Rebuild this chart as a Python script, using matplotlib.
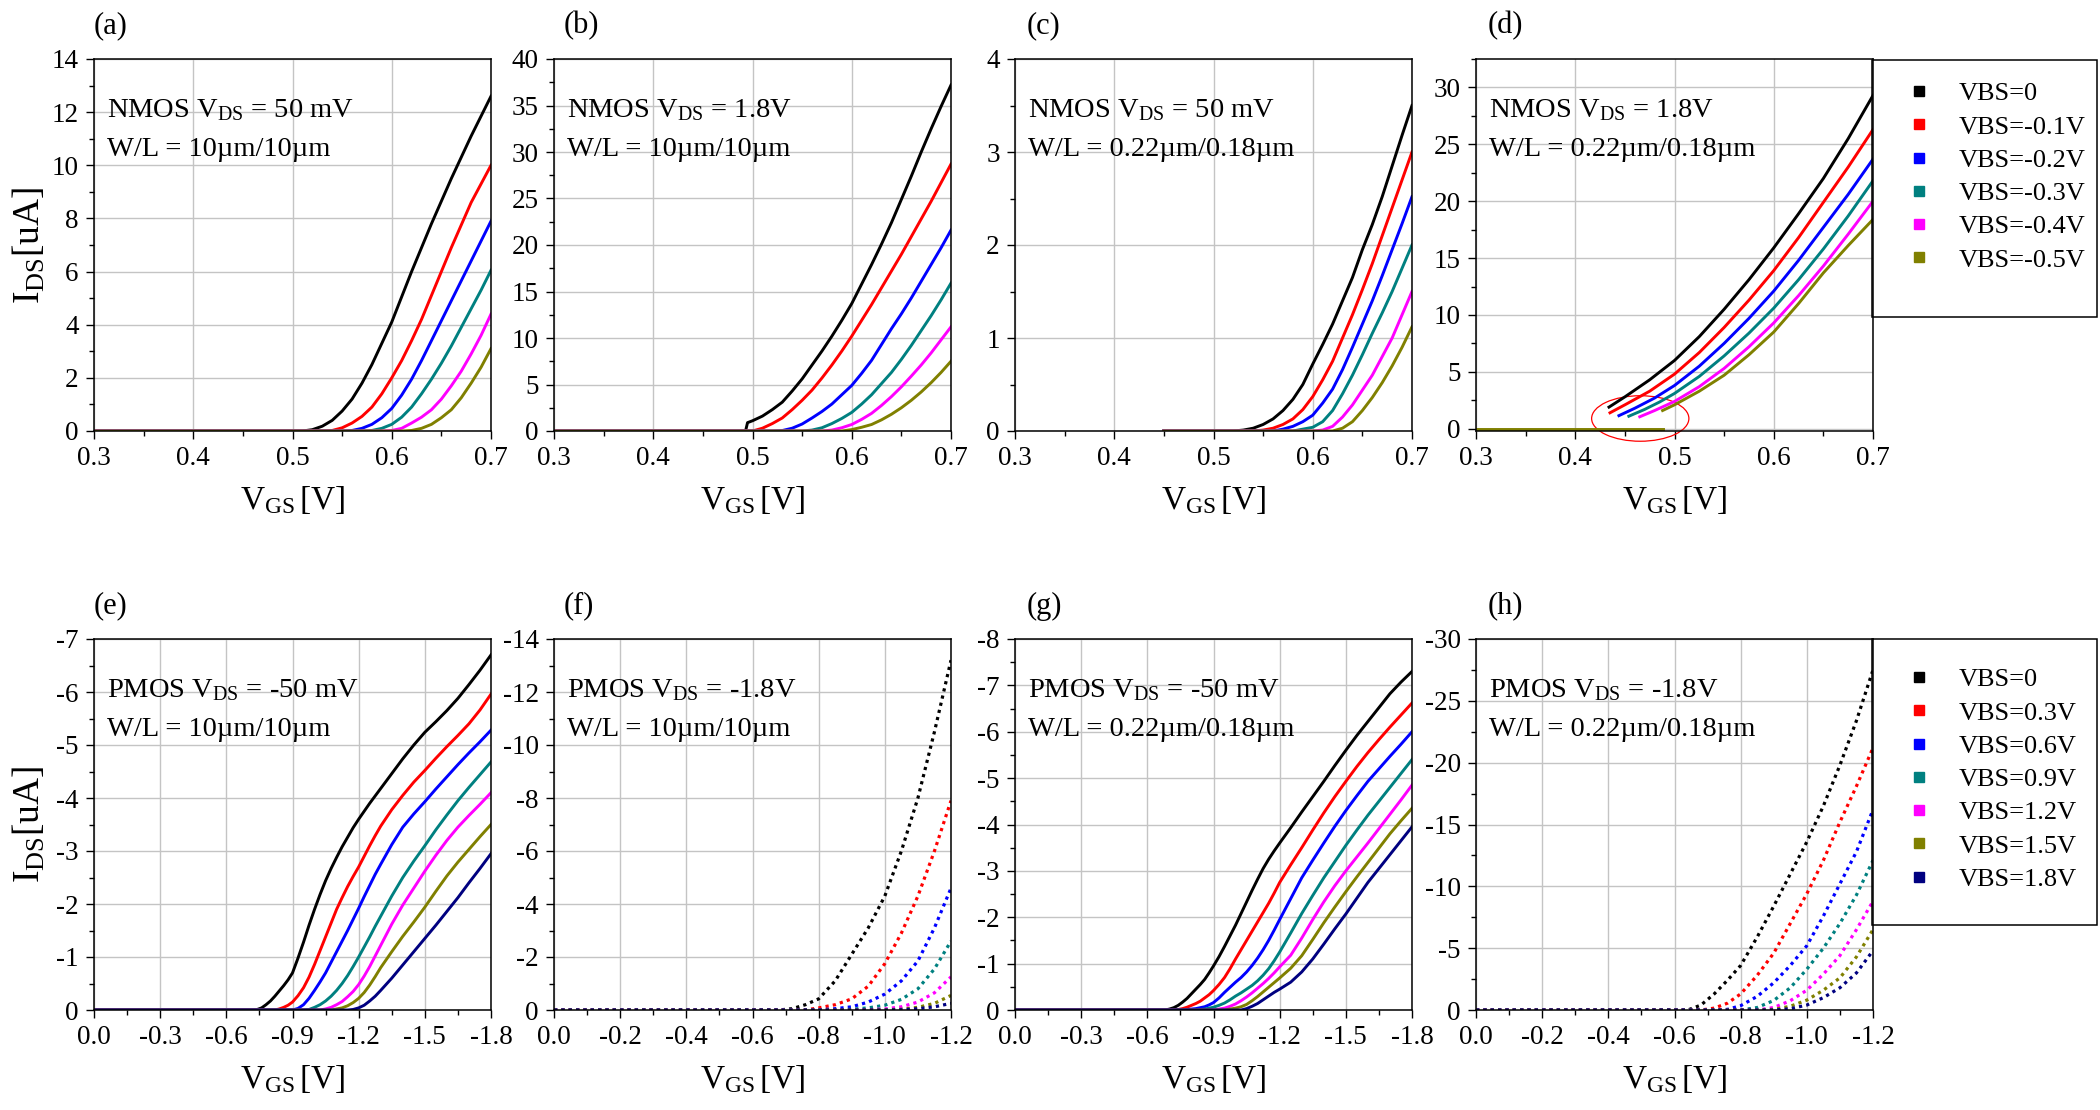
import matplotlib.pyplot as plt
import numpy as np
from matplotlib.ticker import FormatStrFormatter, FixedLocator
from matplotlib.patches import Ellipse, Rectangle
from matplotlib.lines import Line2D

plt.rcParams['font.family'] = ['Liberation Serif', 'DejaVu Serif']
plt.rcParams['mathtext.fontset'] = 'custom'
plt.rcParams['mathtext.rm'] = 'Liberation Serif'
plt.rcParams['mathtext.it'] = 'Liberation Serif:italic'

#%% colours and legend labels
COLORS = ['#000000', '#FF0000', '#0000FF', '#008080', '#FF00FF', '#808000', '#000080']
N_LABELS = ['VBS=0', 'VBS=-0.1V', 'VBS=-0.2V', 'VBS=-0.3V', 'VBS=-0.4V', 'VBS=-0.5V']
P_LABELS = ['VBS=0', 'VBS=0.3V', 'VBS=0.6V', 'VBS=0.9V', 'VBS=1.2V', 'VBS=1.5V', 'VBS=1.8V']

#%% (a) NMOS Vds=50mV, 10/10
a_v = [0.30, 0.50, 0.51, 0.52, 0.53, 0.54, 0.55, 0.56, 0.57, 0.58, 0.59, 0.60,
       0.61, 0.62, 0.63, 0.64, 0.65, 0.66, 0.67, 0.68, 0.69, 0.70]
a_i0 = [0, 0, 0, 0.05, 0.18, 0.4, 0.75, 1.2, 1.8, 2.5, 3.3, 4.1, 5.05, 6.0, 6.9, 7.8, 8.65, 9.5, 10.3, 11.1, 11.85, 12.6]
a_i1 = [0] * 5 + [0.02, 0.12, 0.3, 0.55, 0.9, 1.4, 2.0, 2.65, 3.4, 4.2, 5.1, 6.0, 6.9, 7.75, 8.6, 9.3, 10.0]
a_i2 = [0] * 7 + [0.02, 0.1, 0.25, 0.5, 0.85, 1.35, 1.95, 2.65, 3.4, 4.15, 4.9, 5.65, 6.4, 7.15, 7.9]
a_i3 = [0] * 9 + [0.02, 0.1, 0.25, 0.52, 0.9, 1.4, 1.95, 2.55, 3.2, 3.9, 4.6, 5.3, 6.05]
a_i4 = [0] * 11 + [0.02, 0.1, 0.3, 0.52, 0.8, 1.2, 1.7, 2.25, 2.9, 3.6, 4.4]
a_i5 = [0] * 13 + [0.02, 0.1, 0.25, 0.5, 0.8, 1.25, 1.8, 2.4, 3.1]

#%% (b) NMOS Vds=1.8V, 10/10
b_v = [0.30, 0.493, 0.495, 0.50, 0.51, 0.52, 0.53, 0.54, 0.55, 0.56, 0.57, 0.58, 0.59, 0.60,
       0.61, 0.62, 0.63, 0.64, 0.65, 0.66, 0.67, 0.68, 0.69, 0.70]
b_i0 = [0, 0, 0.9, 1.1, 1.6, 2.3, 3.1, 4.3, 5.6, 7.1, 8.6, 10.2, 11.9, 13.7, 15.8, 17.9, 20.1, 22.4, 24.9, 27.4, 30.0, 32.5, 34.9, 37.2]
b_i1 = [0] * 4 + [0.3, 0.8, 1.4, 2.3, 3.3, 4.4, 5.7, 7.1, 8.6, 10.2, 11.9, 13.6, 15.4, 17.2, 19.0, 20.9, 22.8, 24.7, 26.7, 28.7]
b_i2 = [0] * 6 + [0.05, 0.3, 0.75, 1.4, 2.1, 2.9, 3.9, 4.9, 6.2, 7.6, 9.3, 11.0, 12.6, 14.3, 16.1, 17.9, 19.7, 21.6]
b_i3 = [0] * 9 + [0.1, 0.35, 0.8, 1.35, 2.0, 2.9, 3.9, 5.1, 6.3, 7.7, 9.2, 10.8, 12.4, 14.1, 15.9]
b_i4 = [0] * 11 + [0.1, 0.35, 0.7, 1.25, 1.9, 2.75, 3.7, 4.75, 5.9, 7.1, 8.4, 9.8, 11.2]
b_i5 = [0] * 13 + [0.15, 0.4, 0.7, 1.2, 1.8, 2.5, 3.3, 4.2, 5.2, 6.3, 7.5]

#%% (c) NMOS Vds=50mV, 0.22/0.18
c_v = [0.45, 0.52, 0.53, 0.54, 0.55, 0.56, 0.57, 0.58, 0.59, 0.60, 0.61, 0.62, 0.63, 0.64, 0.65, 0.66, 0.67, 0.68, 0.69, 0.70]
c_i0 = [0, 0, 0.01, 0.03, 0.07, 0.13, 0.22, 0.34, 0.5, 0.72, 0.93, 1.15, 1.4, 1.65, 1.95, 2.22, 2.52, 2.85, 3.18, 3.5]
c_i1 = [0, 0, 0, 0, 0.01, 0.03, 0.07, 0.13, 0.23, 0.37, 0.55, 0.75, 1.0, 1.25, 1.52, 1.8, 2.1, 2.4, 2.7, 3.0]
c_i2 = [0, 0, 0, 0, 0, 0, 0.02, 0.05, 0.1, 0.17, 0.3, 0.45, 0.66, 0.9, 1.15, 1.4, 1.67, 1.95, 2.23, 2.52]
c_i3 = [0, 0, 0, 0, 0, 0, 0, 0, 0.02, 0.04, 0.1, 0.22, 0.4, 0.6, 0.82, 1.05, 1.27, 1.5, 1.75, 2.0]
c_i4 = [0, 0, 0, 0, 0, 0, 0, 0, 0, 0, 0.01, 0.05, 0.15, 0.28, 0.44, 0.6, 0.8, 1.0, 1.25, 1.5]
c_i5 = [0, 0, 0, 0, 0, 0, 0, 0, 0, 0, 0, 0, 0.03, 0.1, 0.22, 0.36, 0.52, 0.7, 0.9, 1.12]

#%% (d) NMOS Vds=1.8V, 0.22/0.18 (curves start above zero)
d_flat_v = [0.30, 0.488]
d_flat_i = [0, 0]
d_v0 = [0.434, 0.45, 0.475, 0.50, 0.525, 0.55, 0.575, 0.60, 0.625, 0.65, 0.675, 0.70]
d_i0 = [1.9, 2.8, 4.3, 6.0, 8.1, 10.5, 13.1, 15.9, 18.9, 22.0, 25.5, 29.3]
d_v1 = [0.435, 0.45, 0.475, 0.50, 0.525, 0.55, 0.575, 0.60, 0.625, 0.65, 0.675, 0.70]
d_i1 = [1.4, 2.1, 3.3, 4.8, 6.7, 8.9, 11.3, 13.9, 16.8, 19.9, 23.0, 26.3]
d_v2 = [0.444, 0.46, 0.48, 0.50, 0.525, 0.55, 0.575, 0.60, 0.625, 0.65, 0.675, 0.70]
d_i2 = [1.15, 1.8, 2.7, 3.8, 5.5, 7.5, 9.7, 12.1, 14.8, 17.7, 20.6, 23.7]
d_v3 = [0.454, 0.47, 0.485, 0.50, 0.525, 0.55, 0.575, 0.60, 0.625, 0.65, 0.675, 0.70]
d_i3 = [1.1, 1.7, 2.35, 3.1, 4.6, 6.4, 8.4, 10.6, 13.1, 15.8, 18.7, 21.8]
d_v4 = [0.465, 0.48, 0.50, 0.525, 0.55, 0.575, 0.60, 0.625, 0.65, 0.675, 0.70]
d_i4 = [1.05, 1.6, 2.4, 3.7, 5.3, 7.2, 9.3, 11.7, 14.3, 17.1, 20.0]
d_v5 = [0.488, 0.50, 0.525, 0.55, 0.575, 0.60, 0.625, 0.65, 0.675, 0.70]
d_i5 = [1.6, 2.1, 3.3, 4.7, 6.5, 8.5, 11.0, 13.7, 16.1, 18.4]

#%% (e) PMOS Vds=-50mV, 10/10
e_v = [0.0, -0.70, -0.72, -0.74, -0.76, -0.78, -0.80, -0.82, -0.84, -0.86, -0.88, -0.90,
       -0.925, -0.95, -0.975, -1.00, -1.025, -1.05, -1.075, -1.10, -1.125, -1.15, -1.175, -1.20,
       -1.225, -1.25, -1.275, -1.30, -1.35, -1.40, -1.45, -1.50, -1.55, -1.60, -1.65, -1.70, -1.75, -1.80]
e_i0 = [0, 0, 0, -0.01, -0.04, -0.1, -0.17, -0.26, -0.36, -0.46, -0.57, -0.7, -0.98, -1.28, -1.6, -1.9,
        -2.18, -2.44, -2.67, -2.88, -3.08, -3.26, -3.44, -3.6, -3.75, -3.9, -4.04, -4.18, -4.46, -4.74,
        -5.0, -5.24, -5.44, -5.65, -5.88, -6.14, -6.41, -6.7]
e_i1 = [0] * 8 + [-0.02, -0.05, -0.09, -0.15, -0.27, -0.42, -0.62, -0.86, -1.12, -1.38, -1.64, -1.9,
                  -2.12, -2.33, -2.52, -2.7, -2.9, -3.1, -3.29, -3.47, -3.78, -4.05, -4.3, -4.52, -4.75,
                  -4.97, -5.18, -5.4, -5.66, -5.96]
e_i2 = [0] * 12 + [-0.03, -0.1, -0.22, -0.37, -0.53, -0.7, -0.9, -1.1, -1.3, -1.5, -1.71, -1.92, -2.14,
                   -2.35, -2.56, -2.75, -3.12, -3.45, -3.7, -3.93, -4.17, -4.4, -4.63, -4.85, -5.06, -5.28]
e_i3 = [0] * 14 + [-0.01, -0.05, -0.1, -0.17, -0.26, -0.37, -0.5, -0.65, -0.82, -1.0, -1.19, -1.38,
                   -1.58, -1.77, -2.15, -2.5, -2.81, -3.1, -3.4, -3.68, -3.95, -4.2, -4.44, -4.68]
e_i4 = [0] * 17 + [-0.02, -0.05, -0.1, -0.16, -0.25, -0.35, -0.48, -0.64, -0.82, -1.02, -1.22, -1.62,
                   -1.98, -2.3, -2.62, -2.92, -3.2, -3.45, -3.67, -3.88, -4.1]
e_i5 = [0] * 19 + [-0.02, -0.04, -0.08, -0.14, -0.22, -0.33, -0.47, -0.63, -0.8, -1.1, -1.39, -1.66,
                   -1.94, -2.24, -2.53, -2.79, -3.03, -3.27, -3.5]
e_i6 = [0] * 22 + [-0.01, -0.04, -0.09, -0.17, -0.26, -0.37, -0.6, -0.85, -1.1, -1.35, -1.6, -1.86,
                   -2.12, -2.4, -2.67, -2.95]

#%% (f) PMOS Vds=-1.8V, 10/10
f_v = [0.0, -0.68, -0.72, -0.76, -0.80, -0.85, -0.90, -0.95, -1.00, -1.05, -1.10, -1.15, -1.20]
f_i0 = [0, 0, -0.05, -0.2, -0.42, -1.1, -2.1, -3.1, -4.3, -6.0, -8.0, -10.5, -13.2]
f_i1 = [0, 0, 0, 0, -0.08, -0.2, -0.42, -0.9, -1.75, -2.9, -4.3, -6.0, -7.9]
f_i2 = [0, 0, 0, 0, 0, -0.05, -0.12, -0.3, -0.6, -1.1, -1.85, -3.1, -4.6]
f_i3 = [0, 0, 0, 0, 0, 0, -0.03, -0.08, -0.18, -0.4, -0.8, -1.55, -2.6]
f_i4 = [0, 0, 0, 0, 0, 0, 0, -0.01, -0.04, -0.12, -0.3, -0.65, -1.25]
f_i5 = [0, 0, 0, 0, 0, 0, 0, 0, -0.01, -0.03, -0.1, -0.25, -0.55]
f_i6 = [0, 0, 0, 0, 0, 0, 0, 0, 0, -0.01, -0.05, -0.12, -0.25]

#%% (g) PMOS Vds=-50mV, 0.22/0.18
g_v = [0.0, -0.66, -0.68, -0.70, -0.72, -0.74, -0.76, -0.78, -0.80, -0.82, -0.84, -0.86, -0.88, -0.90,
       -0.925, -0.95, -0.975, -1.00, -1.025, -1.05, -1.075, -1.10, -1.125, -1.15, -1.175, -1.20,
       -1.25, -1.30, -1.35, -1.40, -1.45, -1.50, -1.55, -1.60, -1.65, -1.70, -1.75, -1.80]
g_i0 = [0, 0, 0, -0.02, -0.05, -0.1, -0.17, -0.25, -0.35, -0.45, -0.55, -0.66, -0.8, -0.95, -1.15, -1.37,
        -1.6, -1.83, -2.08, -2.33, -2.58, -2.82, -3.05, -3.25, -3.43, -3.6, -3.93, -4.27, -4.6, -4.93,
        -5.27, -5.6, -5.92, -6.22, -6.52, -6.82, -7.07, -7.3]
g_i1 = [0] * 5 + [-0.01, -0.03, -0.06, -0.1, -0.14, -0.19, -0.26, -0.33, -0.42, -0.55, -0.7, -0.89, -1.1,
                  -1.3, -1.5, -1.7, -1.9, -2.1, -2.3, -2.52, -2.75, -3.13, -3.5, -3.88, -4.25, -4.6, -4.93,
                  -5.25, -5.55, -5.83, -6.1, -6.36, -6.62]
g_i2 = [0] * 7 + [-0.01, -0.02, -0.03, -0.05, -0.07, -0.11, -0.16, -0.26, -0.38, -0.49, -0.6, -0.7, -0.82,
                  -0.96, -1.12, -1.3, -1.5, -1.72, -1.95, -2.4, -2.85, -3.23, -3.6, -3.96, -4.3, -4.62, -4.93,
                  -5.2, -5.47, -5.73, -6.0]
g_i3 = [0] * 10 + [-0.01, -0.02, -0.04, -0.06, -0.1, -0.15, -0.22, -0.3, -0.37, -0.45, -0.53, -0.63, -0.75,
                   -0.89, -1.06, -1.25, -1.66, -2.08, -2.47, -2.85, -3.2, -3.55, -3.88, -4.2, -4.5, -4.8,
                   -5.1, -5.4]
g_i4 = [0] * 14 + [-0.02, -0.04, -0.08, -0.13, -0.2, -0.28, -0.37, -0.47, -0.57, -0.68, -0.8, -0.93, -1.18,
                   -1.55, -1.95, -2.33, -2.68, -3.0, -3.3, -3.6, -3.91, -4.22, -4.53, -4.85]
g_i5 = [0] * 16 + [-0.02, -0.04, -0.07, -0.12, -0.2, -0.29, -0.39, -0.49, -0.59, -0.69, -0.9, -1.17, -1.52,
                   -1.88, -2.22, -2.55, -2.87, -3.18, -3.49, -3.8, -4.08, -4.35]
g_i6 = [0] * 19 + [-0.03, -0.08, -0.14, -0.22, -0.3, -0.38, -0.45, -0.6, -0.82, -1.1, -1.42, -1.75, -2.07,
                   -2.41, -2.75, -3.05, -3.35, -3.65, -3.95]

#%% (h) PMOS Vds=-1.8V, 0.22/0.18
h_v = [0.0, -0.64, -0.68, -0.72, -0.76, -0.80, -0.85, -0.90, -0.95, -1.00, -1.05, -1.10, -1.15, -1.20]
h_i0 = [0, 0, -0.4, -1.3, -2.4, -3.6, -5.9, -8.4, -11.0, -13.6, -16.5, -19.8, -23.4, -27.5]
h_i1 = [0, 0, 0, -0.15, -0.55, -1.3, -2.8, -4.6, -7.0, -9.4, -12.1, -15.2, -18.1, -21.2]
h_i2 = [0, 0, 0, 0, -0.05, -0.35, -1.1, -2.2, -3.6, -5.2, -7.6, -10.2, -12.8, -16.2]
h_i3 = [0, 0, 0, 0, 0, 0, -0.2, -0.77, -1.8, -3.3, -5.0, -7.0, -9.3, -12.1]
h_i4 = [0, 0, 0, 0, 0, 0, 0, -0.2, -0.75, -1.6, -2.9, -4.4, -6.5, -8.8]
h_i5 = [0, 0, 0, 0, 0, 0, 0, -0.05, -0.3, -0.8, -1.6, -2.6, -4.3, -6.5]
h_i6 = [0, 0, 0, 0, 0, 0, 0, 0, -0.1, -0.4, -1.0, -1.8, -3.0, -4.8]

#%% layout (pixel boxes of the original picture)
W, H = 2100, 1110
LEFTS = [94, 554, 1015, 1476]
AX_W = 397
ROWS = [(59, 431), (639, 1010)]


def box(l, t, r, b):
    return [l / W, 1 - b / H, (r - l) / W, (b - t) / H]


fig = plt.figure(figsize=(21, 11.1), dpi=100)


def make_ax(row, col, xlim, ylim, xmaj, xmin, ymaj, ymin, xfmt, yfmt):
    t, b = ROWS[row]
    l = LEFTS[col]
    ax = fig.add_axes(box(l, t, l + AX_W, b))
    ax.set_xlim(*xlim)
    ax.set_ylim(*ylim)
    ax.xaxis.set_major_locator(FixedLocator(xmaj))
    ax.xaxis.set_minor_locator(FixedLocator(xmin))
    ax.yaxis.set_major_locator(FixedLocator(ymaj))
    ax.yaxis.set_minor_locator(FixedLocator(ymin))
    ax.xaxis.set_major_formatter(FormatStrFormatter(xfmt))
    ax.yaxis.set_major_formatter(FormatStrFormatter(yfmt))
    ax.grid(True, which='major', color='#c4c4c4', lw=1.0)
    ax.set_axisbelow(True)
    ax.tick_params(which='major', direction='out', length=6, width=1.0, labelsize=19.5, pad=5)
    ax.tick_params(which='minor', direction='out', length=3.5, width=1.0)
    ax.tick_params(top=False, right=False)
    for s in ax.spines.values():
        s.set_linewidth(1.1)
    ax.set_xlabel(r'V$_{\mathrm{GS}}\,$[V]', fontsize=24)
    ax.xaxis.set_label_coords(0.5, -0.142)
    if col == 0:
        ax.set_ylabel(r'I$_{\mathrm{DS}}$[uA]', fontsize=27)
        ax.yaxis.set_label_coords(-0.118, 0.5)
    lx = [0, 10, 12, 12][col]
    fig.text((l + lx) / W, 1 - (t - 33) / H, '(' + 'abcdefgh'[row * 4 + col] + ')',
             fontsize=22, ha='left', va='center')
    return ax


def note(ax, line1, line2):
    ax.text(0.032, 0.862, line1, transform=ax.transAxes, fontsize=20.5, va='center')
    ax.text(0.032, 0.757, line2, transform=ax.transAxes, fontsize=20.5, va='center')


def fr(a, b, step):
    return [float(v) + 0.0 for v in np.round(np.arange(a, b + step / 2, step), 4)]


def legend_box(ax, labels, n, y_first, top, bottom):
    hd = [Line2D([], [], marker='s', ls='none', color=c, markersize=7.5) for c in COLORS[:n]]
    ax.legend(hd, labels, loc='upper left', bbox_to_anchor=(1906 / W, 1 - y_first / H),
              bbox_transform=fig.transFigure, frameon=False, borderaxespad=0, borderpad=0,
              handlelength=1.0, handletextpad=1.0, labelspacing=0.37, fontsize=19)
    fig.add_artist(Rectangle((1872 / W, 1 - bottom / H), (2097 - 1872) / W, (bottom - top) / H,
                             transform=fig.transFigure, fill=False, ec='black', lw=1.1))


nx_maj = fr(0.3, 0.7, 0.1)
nx_min = fr(0.3, 0.7, 0.05)

# (a)
ax = make_ax(0, 0, (0.3, 0.7), (0, 14), nx_maj, nx_min, fr(0, 14, 2), fr(0, 14, 1), '%.1f', '%d')
for i, y in enumerate([a_i0, a_i1, a_i2, a_i3, a_i4, a_i5]):
    ax.plot(a_v, y, color=COLORS[i], lw=2.1)
note(ax, r'NMOS V$_{\mathrm{DS}}$ = 50 mV', 'W/L = 10µm/10µm')

# (b)
ax = make_ax(0, 1, (0.3, 0.7), (0, 40), nx_maj, nx_min, fr(0, 40, 5), fr(0, 40, 2.5), '%.1f', '%d')
for i, y in enumerate([b_i0, b_i1, b_i2, b_i3, b_i4, b_i5]):
    ax.plot(b_v, y, color=COLORS[i], lw=2.1)
note(ax, r'NMOS V$_{\mathrm{DS}}$ = 1.8V', 'W/L = 10µm/10µm')

# (c)
ax = make_ax(0, 2, (0.3, 0.7), (0, 4), nx_maj, nx_min, fr(0, 4, 1), fr(0, 4, 0.5), '%.1f', '%d')
for i, y in enumerate([c_i0, c_i1, c_i2, c_i3, c_i4, c_i5]):
    ax.plot(c_v, y, color=COLORS[i], lw=2.1)
note(ax, r'NMOS V$_{\mathrm{DS}}$ = 50 mV', 'W/L = 0.22µm/0.18µm')

# (d)
ax = make_ax(0, 3, (0.3, 0.7), (-0.2, 32.5), nx_maj, nx_min, fr(0, 30, 5), fr(0, 32.5, 2.5), '%.1f', '%d')
ax.plot(d_flat_v, d_flat_i, color=COLORS[5], lw=2.1)
d_curves = [(d_v0, d_i0), (d_v1, d_i1), (d_v2, d_i2), (d_v3, d_i3), (d_v4, d_i4), (d_v5, d_i5)]
for i, (xv, yv) in enumerate(d_curves):
    ax.plot(xv, yv, color=COLORS[i], lw=2.1)
ax.add_patch(Ellipse((0.4655, 0.9), 0.098, 4.0, fill=False, ec='red', lw=0.9, clip_on=False))
note(ax, r'NMOS V$_{\mathrm{DS}}$ = 1.8V', 'W/L = 0.22µm/0.18µm')
legend_box(ax, N_LABELS, 6, 82, 60, 317)

px_maj18 = fr(-1.8, 0, 0.3)[::-1]
px_min18 = fr(-1.8, 0, 0.15)
px_maj12 = fr(-1.2, 0, 0.2)[::-1]
px_min12 = fr(-1.2, 0, 0.1)

# (e)
ax = make_ax(1, 0, (0, -1.8), (0, -7), px_maj18, px_min18, fr(-7, 0, 1), fr(-7, 0, 0.5), '%.1f', '%d')
for i, y in enumerate([e_i0, e_i1, e_i2, e_i3, e_i4, e_i5, e_i6]):
    ax.plot(e_v, y, color=COLORS[i], lw=2.1)
note(ax, r'PMOS V$_{\mathrm{DS}}$ = -50 mV', 'W/L = 10µm/10µm')

# (f)
ax = make_ax(1, 1, (0, -1.2), (0, -14), px_maj12, px_min12, fr(-14, 0, 2), fr(-14, 0, 1), '%.1f', '%d')
for i, y in enumerate([f_i0, f_i1, f_i2, f_i3, f_i4, f_i5, f_i6]):
    ax.plot(f_v, y, color=COLORS[i], lw=2.3, ls=(0, (1, 1.3)))
note(ax, r'PMOS V$_{\mathrm{DS}}$ = -1.8V', 'W/L = 10µm/10µm')

# (g)
ax = make_ax(1, 2, (0, -1.8), (0, -8), px_maj18, px_min18, fr(-8, 0, 1), fr(-8, 0, 0.5), '%.1f', '%d')
for i, y in enumerate([g_i0, g_i1, g_i2, g_i3, g_i4, g_i5, g_i6]):
    ax.plot(g_v, y, color=COLORS[i], lw=2.1)
note(ax, r'PMOS V$_{\mathrm{DS}}$ = -50 mV', 'W/L = 0.22µm/0.18µm')

# (h)
ax = make_ax(1, 3, (0, -1.2), (0, -30), px_maj12, px_min12, fr(-30, 0, 5), fr(-30, 0, 2.5), '%.1f', '%d')
for i, y in enumerate([h_i0, h_i1, h_i2, h_i3, h_i4, h_i5, h_i6]):
    ax.plot(h_v, y, color=COLORS[i], lw=2.3, ls=(0, (1, 1.3)))
note(ax, r'PMOS V$_{\mathrm{DS}}$ = -1.8V', 'W/L = 0.22µm/0.18µm')
legend_box(ax, P_LABELS, 7, 668, 639, 925)

fig.savefig('out.png', dpi=100, facecolor='white')
